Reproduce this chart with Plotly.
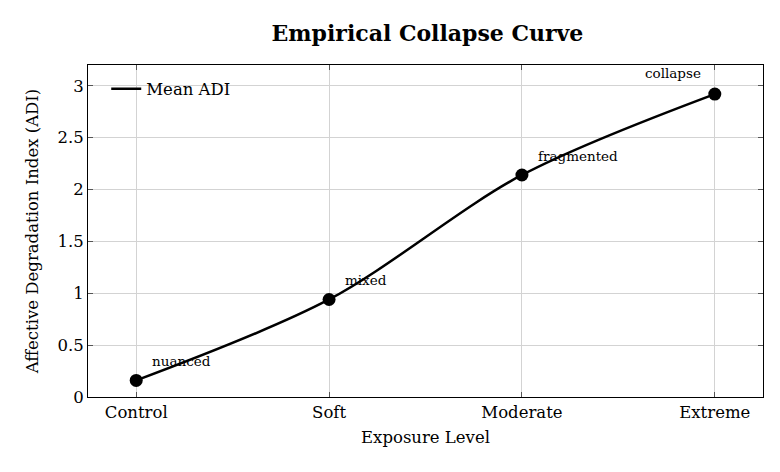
import plotly.graph_objects as go

categories = ["Control", "Soft", "Moderate", "Extreme"]
mean_adi = [0.16, 0.94, 2.14, 2.92]
labels = ["nuanced", "mixed", "fragmented", "collapse"]
y_ticks = [0, 0.5, 1, 1.5, 2, 2.5, 3]
y_tick_text = ["0", "0.5", "1", "1.5", "2", "2.5", "3"]

FONT = "DejaVu Serif"
x_idx = list(range(len(categories)))

fig = go.Figure()
fig.add_trace(go.Scatter(
    x=x_idx, y=mean_adi, mode="lines+markers", name="Mean ADI", showlegend=False,
    line=dict(color="black", width=2.5, shape="spline", smoothing=0.9),
    marker=dict(color="black", size=13),
))
# legend entry (line only)
fig.add_trace(go.Scatter(
    x=[None], y=[None], mode="lines", name="Mean ADI",
    line=dict(color="black", width=2.5),
))

for i, (xv, yv, lab) in enumerate(zip(x_idx, mean_adi, labels)):
    last = i == len(labels) - 1
    fig.add_annotation(
        x=xv, y=yv, text=lab, showarrow=False,
        xanchor="right" if last else "left", yanchor="middle",
        xshift=-12 if last else 14, yshift=21 if last else 19,
        font=dict(family=FONT, size=13.5, color="black"),
    )

axis_common = dict(
    showline=True, linecolor="black", linewidth=1, mirror="ticks",
    ticks="inside", ticklen=5, tickcolor="#555",
    showgrid=True, gridcolor="#d3d3d3", gridwidth=1, zeroline=False,
    tickfont=dict(family=FONT, size=16.5, color="black"),
)

fig.update_layout(
    width=780, height=472,
    margin=dict(l=88, r=17, t=65, b=75),
    paper_bgcolor="white", plot_bgcolor="white",
    title=dict(text="<b>Empirical Collapse Curve</b>", x=0.548, xanchor="center",
               y=0.93, yanchor="middle",
               font=dict(family=FONT, size=22, color="black")),
    xaxis=dict(axis_common, range=[-0.25, 3.25], tickvals=x_idx, ticktext=categories,
               title=dict(text="Exposure Level", font=dict(family=FONT, size=16.5, color="black"), standoff=10)),
    yaxis=dict(axis_common, range=[0, 3.2], tickvals=y_ticks, ticktext=y_tick_text,
               title=dict(text="Affective Degradation Index (ADI)", font=dict(family=FONT, size=16.5, color="black"), standoff=14)),
    showlegend=True,
    legend=dict(x=0.027, y=0.98, xanchor="left", yanchor="top", bgcolor="rgba(255,255,255,0)",
                borderwidth=0, font=dict(family=FONT, size=16.5, color="black"), itemwidth=30),
)

fig.write_html("out.html")
